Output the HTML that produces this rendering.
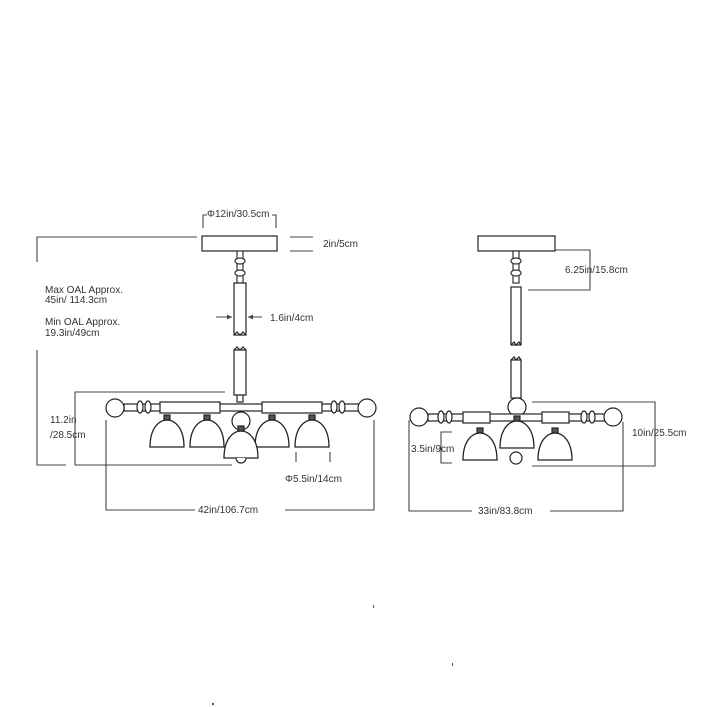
<!DOCTYPE html>
<html><head><style>body{margin:0;background:#fff}svg{display:block}text{font-family:"Liberation Sans",sans-serif;font-size:10px;fill:#333}</style></head><body>
<svg width="707" height="707" viewBox="0 0 707 707" xmlns="http://www.w3.org/2000/svg">
<defs>
<g id="shade"><path d="M-17,27 C-17,8 -8,0 0,0 C8,0 17,8 17,27 Z" fill="#fff" stroke="#222" stroke-width="1.3"/><rect x="-3" y="-5" width="6" height="5" fill="#555"/></g>
<g id="finial"><rect x="-3" y="0" width="6" height="32" fill="#fff" stroke="#333"/><ellipse cx="0" cy="10" rx="5" ry="3" fill="#fff" stroke="#333"/><ellipse cx="0" cy="22" rx="5" ry="3" fill="#fff" stroke="#333"/></g>
</defs>
<g stroke="#444" stroke-width="1.1" fill="none">
<path d="M203,228 V215 H207 M272,215 H276 V228"/>
<path d="M37,262 V237 H197 M37,350 V465 H66"/>
<path d="M290,237 H313 M290,251 H313"/>
<path d="M75,465 V392 H225 M75,465 H232"/>
<path d="M216,317 H232 M262,317 H248"/>
<path d="M296,452 V462 M330,452 V462"/>
<path d="M106,420 V510 H195 M285,510 H374 V420"/>
<path d="M528,250 H590 V290 H528"/>
<path d="M532,402 H655 V466 H532"/>
<path d="M452,432 H441 V463 H452"/>
<path d="M409,420 V511 H472 M550,511 H623 V422"/>
</g>
<g fill="#444" stroke="none"><path d="M232,317 l-5,-2.5 v5z M248,317 l5,-2.5 v5z"/></g>
<text x="207" y="217">Φ12in/30.5cm</text>
<text x="323" y="247">2in/5cm</text>
<text x="45" y="293">Max OAL Approx.</text>
<text x="45" y="303">45in/ 114.3cm</text>
<text x="45" y="325">Min OAL Approx.</text>
<text x="45" y="336">19.3in/49cm</text>
<text x="270" y="321">1.6in/4cm</text>
<text x="50" y="423">11.2in</text>
<text x="50" y="438">/28.5cm</text>
<text x="285" y="482">Φ5.5in/14cm</text>
<text x="198" y="513">42in/106.7cm</text>
<text x="565" y="273">6.25in/15.8cm</text>
<text x="632" y="436">10in/25.5cm</text>
<text x="411" y="452">3.5in/9cm</text>
<text x="478" y="514">33in/83.8cm</text>
<g stroke="#222" stroke-width="1.2" fill="#fff">
<rect x="202" y="236" width="75" height="15"/>
<use href="#finial" x="240" y="251"/>
<rect x="234" y="283" width="12" height="52"/>
<path d="M234,335 l3,-3 l3,3 l3,-3 l3,3" fill="none"/>
<path d="M234,350 l3,-3 l3,3 l3,-3 l3,3" fill="none"/>
<rect x="234" y="350" width="12" height="45"/>
<rect x="237" y="395" width="6" height="7"/>
<rect x="124" y="404" width="236" height="7"/>
<rect x="160" y="402" width="60" height="11"/>
<rect x="262" y="402" width="60" height="11"/>
<ellipse cx="140" cy="407" rx="3" ry="6"/><ellipse cx="148" cy="407" rx="3" ry="6"/>
<ellipse cx="334" cy="407" rx="3" ry="6"/><ellipse cx="342" cy="407" rx="3" ry="6"/>
<circle cx="115" cy="408" r="9"/><circle cx="367" cy="408" r="9"/>
<circle cx="241" cy="421" r="9"/>
<use href="#shade" x="167" y="420"/><use href="#shade" x="207" y="420"/>
<use href="#shade" x="272" y="420"/><use href="#shade" x="312" y="420"/>
<use href="#shade" x="241" y="431"/>
<path d="M236,458 a5,5 0 0 0 10,0" />
</g>
<g stroke="#222" stroke-width="1.2" fill="#fff">
<rect x="478" y="236" width="77" height="15"/>
<use href="#finial" x="516" y="251"/>
<rect x="511" y="287" width="10" height="58"/>
<path d="M511,345 l3,-3 l2,3 l3,-3 l2,3" fill="none"/>
<path d="M511,360 l3,-3 l2,3 l3,-3 l2,3" fill="none"/>
<rect x="511" y="360" width="10" height="38"/>
<circle cx="517" cy="407" r="9"/>
<rect x="428" y="414" width="178" height="7"/>
<rect x="463" y="412" width="27" height="11"/>
<rect x="542" y="412" width="27" height="11"/>
<ellipse cx="441" cy="417" rx="3" ry="6"/><ellipse cx="449" cy="417" rx="3" ry="6"/>
<ellipse cx="584" cy="417" rx="3" ry="6"/><ellipse cx="592" cy="417" rx="3" ry="6"/>
<circle cx="419" cy="417" r="9"/><circle cx="613" cy="417" r="9"/>
<use href="#shade" x="480" y="433"/><use href="#shade" x="555" y="433"/>
<use href="#shade" x="517" y="421"/>
<circle cx="516" cy="458" r="6"/>
</g>
<g fill="#555"><rect x="373" y="605" width="1" height="3"/><rect x="452" y="663" width="1" height="3"/><rect x="212" y="703" width="2" height="2"/></g>
</svg>
</body></html>
